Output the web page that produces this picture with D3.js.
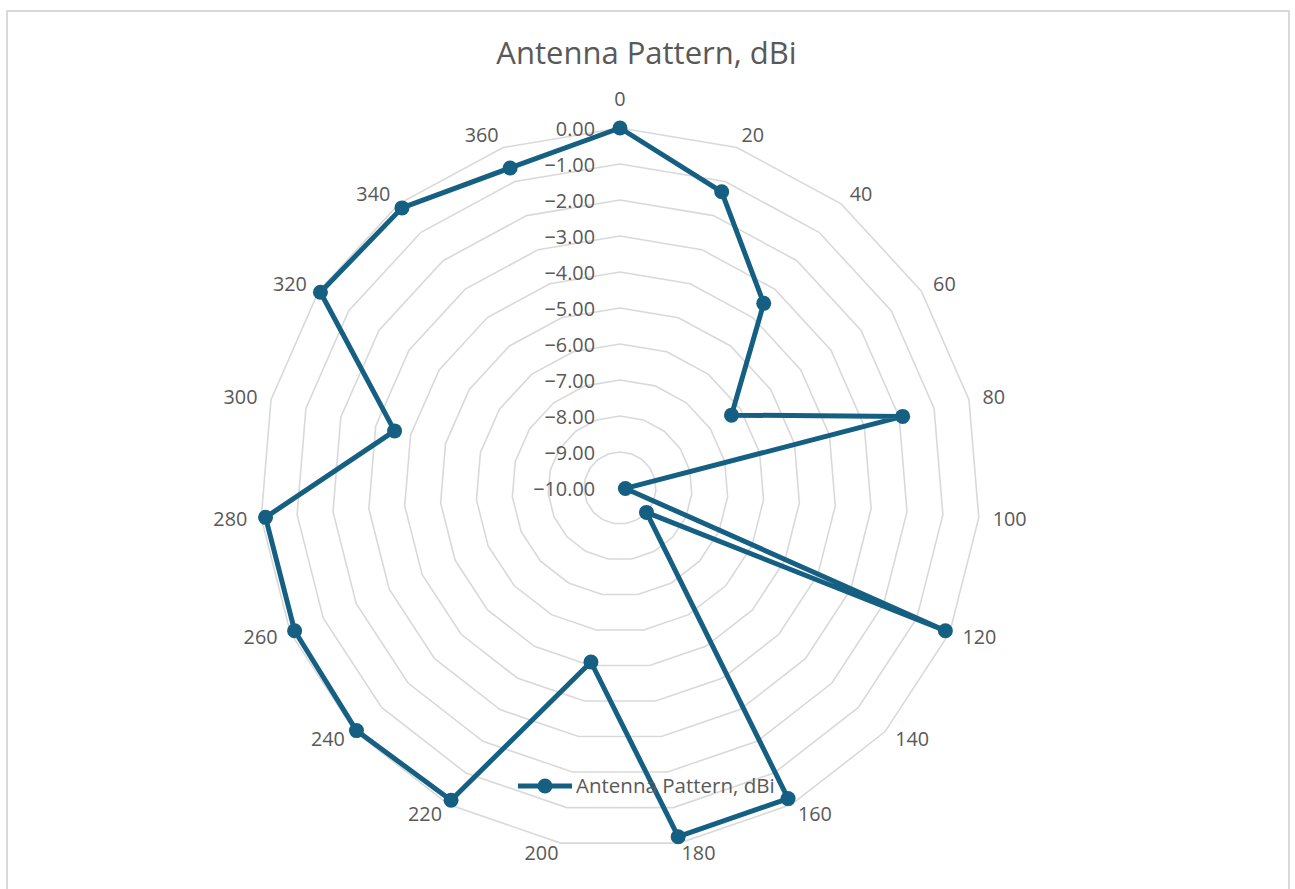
<!DOCTYPE html>
<html>
<head>
<meta charset="utf-8">
<script src="https://cdn.jsdelivr.net/npm/d3@7"></script>
<style>
  html, body { margin: 0; padding: 0; background: #fff; }
  svg { display: block; }
  text { font-family: "Open Sans", "Noto Sans", sans-serif; fill: #595959; }
</style>
</head>
<body>
<svg id="chart" width="1295" height="889"></svg>
<script>
// ---- data ----
const title = "Antenna Pattern, dBi";
const seriesName = "Antenna Pattern, dBi";
const categories = ["0","20","40","60","80","100","120","140","160","180","200","220","240","260","280","300","320","340","360"];
const values = [0, -1.3, -3.5, -6.3, -1.9, -9.85, -0.13, -9.0, -0.19, -0.18, -5.1, -0.14, -0.05, -0.13, -0.12, -3.54, -0.06, -0.14, -0.6];
const gridValues = [0, -1, -2, -3, -4, -5, -6, -7, -8, -9];
const tickValues = [0, -1, -2, -3, -4, -5, -6, -7, -8, -9, -10];

// ---- layout ----
const cx = 620, cy = 488, R = 360;
const color = "#156082";
const gridColor = "#d9d9d9";
const labelSize = 19.8;

const svg = d3.select("#chart");

// chart border
svg.append("rect")
  .attr("x", 7).attr("y", 11)
  .attr("width", 1282).attr("height", 900)
  .attr("fill", "none").attr("stroke", "#d9d9d9").attr("stroke-width", 2);

const r = d3.scaleLinear().domain([-10, 0]).range([0, R]);
const angle = d3.scalePoint().domain(categories).range([0, 2 * Math.PI * (categories.length - 1) / categories.length]);

const g = svg.append("g").attr("transform", `translate(${cx},${cy})`);

const radial = d3.lineRadial()
  .angle(d => angle(d.cat))
  .radius(d => r(d.v))
  .curve(d3.curveLinearClosed);

// grid rings
g.append("g").selectAll("path")
  .data(gridValues)
  .join("path")
  .attr("d", gv => radial(categories.map(c => ({cat: c, v: gv}))))
  .attr("fill", "none")
  .attr("stroke", gridColor)
  .attr("stroke-width", 1.6);

// value axis labels
g.append("g").selectAll("text")
  .data(tickValues)
  .join("text")
  .attr("x", -25)
  .attr("y", d => -r(d) + 1)
  .attr("dy", "0.36em")
  .attr("text-anchor", "end")
  .attr("font-size", labelSize)
  .text(d => d3.format(".2f")(d));

// category labels
g.append("g").selectAll("text")
  .data(categories)
  .join("text")
  .each(function(c, i) {
    const a = angle(c);
    const s = Math.sin(a), co = Math.cos(a);
    const vx = R * s, vy = -R * co;
    const anchor = Math.abs(s) < 0.01 ? "middle" : (s > 0 ? "start" : "end");
    const x = vx + 14 * s;
    let y = vy + (co > 0 ? -13 * co : -10 * co);
    if (i === 0) y -= 16; // pushed up to clear the value axis label
    d3.select(this)
      .attr("x", x).attr("y", y)
      .attr("dy", "0.36em")
      .attr("text-anchor", anchor)
      .attr("font-size", labelSize)
      .text(c);
  });

// series
const pts = categories.map((c, i) => ({cat: c, v: values[i]}));
g.append("path")
  .attr("d", radial(pts))
  .attr("fill", "none")
  .attr("stroke", color)
  .attr("stroke-width", 5)
  .attr("stroke-linejoin", "round");

g.append("g").selectAll("circle")
  .data(pts)
  .join("circle")
  .attr("cx", d => r(d.v) * Math.sin(angle(d.cat)))
  .attr("cy", d => -r(d.v) * Math.cos(angle(d.cat)))
  .attr("r", 7.5)
  .attr("fill", color);

// title
svg.append("text")
  .attr("x", 646.5).attr("y", 64)
  .attr("text-anchor", "middle")
  .attr("font-size", 31)
  .text(title);

// legend
const lg = svg.append("g").attr("transform", "translate(518,786)");
lg.append("line").attr("x1", 0).attr("x2", 54).attr("y1", 0).attr("y2", 0)
  .attr("stroke", color).attr("stroke-width", 5);
lg.append("circle").attr("cx", 27).attr("cy", 0).attr("r", 7.5).attr("fill", color);
lg.append("text").attr("x", 58).attr("y", 0).attr("dy", "0.36em")
  .attr("font-size", 20.5).text(seriesName);
</script>
</body>
</html>
